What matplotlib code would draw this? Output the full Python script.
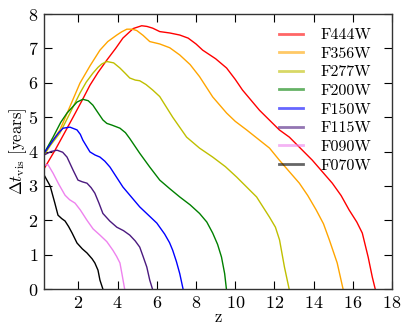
import matplotlib
matplotlib.use('Agg')
import matplotlib.pyplot as plt
from matplotlib.lines import Line2D

plt.rcParams['font.family'] = 'cmr10'
plt.rcParams['mathtext.fontset'] = 'cm'
plt.rcParams['axes.formatter.use_mathtext'] = True
plt.rcParams['axes.unicode_minus'] = False

filters = ['F444W', 'F356W', 'F277W', 'F200W', 'F150W', 'F115W', 'F090W', 'F070W']
colors = ['red', 'orange', '#bfbf00', 'green', 'blue', '#4b1a7f', 'violet', 'black']

# redshift / visibility time (years)
z_f444 = [0.25, 0.81, 1.3, 1.73, 2.2, 2.59, 3.0, 3.45, 3.9, 4.27, 4.8, 5.23, 5.5, 5.79,
          6.15, 6.66, 7.17, 7.6, 8.0, 8.34, 9.0, 9.56, 10.0, 10.37, 11.24, 12.25,
          12.76, 13.93, 14.95, 15.4, 15.81, 16.2, 16.48, 16.78, 16.99, 17.14]
t_f444 = [3.5, 4.04, 4.55, 5.0, 5.5, 5.93, 6.3, 6.66, 7.0, 7.3, 7.58, 7.66, 7.64, 7.59,
          7.49, 7.45, 7.39, 7.3, 7.13, 6.95, 6.7, 6.43, 6.1, 5.79, 5.2, 4.63,
          4.42, 3.75, 3.08, 2.72, 2.3, 1.95, 1.63, 0.93, 0.35, 0.0]

z_f356 = [0.25, 0.6, 1.06, 1.6, 2.08, 2.6, 3.1, 3.5, 3.96, 4.2, 4.47, 4.75, 4.98, 5.3,
          5.64, 6.15, 6.66, 7.17, 7.7, 8.18, 8.85, 9.56, 10.0, 10.58, 11.75, 12.25,
          13.27, 13.7, 14.13, 14.5, 14.8, 15.2, 15.5]
t_f356 = [3.9, 4.25, 4.63, 5.35, 5.99, 6.5, 6.95, 7.2, 7.39, 7.48, 7.56, 7.56, 7.52, 7.38,
          7.2, 7.13, 7.02, 6.81, 6.53, 6.18, 5.59, 5.12, 4.88, 4.63, 4.1, 3.75,
          3.08, 2.72, 2.3, 1.9, 1.43, 0.76, 0.0]

z_f277 = [0.25, 0.6, 1.06, 1.6, 2.08, 2.4, 2.74, 3.0, 3.2, 3.45, 3.8, 4.12, 4.4, 4.62,
          4.9, 5.13, 5.45, 5.79, 6.15, 6.81, 7.52, 8.18, 8.85, 9.5, 10.07, 11.09,
          11.75, 12.05, 12.26, 12.51, 12.75]
t_f277 = [3.9, 4.2, 4.54, 5.15, 5.7, 6.02, 6.28, 6.45, 6.55, 6.62, 6.58, 6.43, 6.27, 6.14,
          6.08, 6.06, 5.95, 5.79, 5.6, 5.0, 4.42, 4.1, 3.84, 3.56, 3.26, 2.68,
          2.09, 1.8, 1.43, 0.64, 0.0]

z_f200 = [0.25, 0.71, 1.1, 1.42, 1.93, 2.23, 2.5, 2.74, 3.0, 3.25, 3.45, 3.71, 4.12, 4.4,
          4.62, 5.13, 5.64, 6.15, 6.66, 7.17, 7.7, 8.18, 8.55, 8.85, 9.1, 9.3, 9.46,
          9.55]
t_f200 = [3.95, 4.42, 4.85, 5.12, 5.44, 5.52, 5.48, 5.35, 5.13, 4.92, 4.82, 4.77, 4.68,
          4.55, 4.38, 3.95, 3.55, 3.17, 2.92, 2.68, 2.45, 2.2, 1.95, 1.63, 1.3, 0.93,
          0.45, 0.0]

z_f150 = [0.25, 0.71, 1.0, 1.22, 1.57, 1.93, 2.1, 2.23, 2.59, 2.85, 3.1, 3.35, 3.61,
          4.27, 5.13, 6.0, 6.4, 6.65, 6.81, 7.0, 7.17, 7.34]
t_f150 = [3.95, 4.33, 4.55, 4.68, 4.71, 4.63, 4.5, 4.33, 3.99, 3.9, 3.84, 3.72, 3.55,
          2.97, 2.39, 1.92, 1.6, 1.35, 1.13, 0.8, 0.45, 0.0]

z_f115 = [0.25, 0.6, 0.91, 1.2, 1.42, 1.73, 1.98, 2.2, 2.44, 2.65, 2.84, 3.05, 3.25,
          3.6, 3.96, 4.3, 4.62, 4.9, 5.13, 5.3, 5.49, 5.64, 5.78]
t_f115 = [3.9, 4.0, 4.04, 3.98, 3.84, 3.46, 3.17, 3.12, 3.08, 2.95, 2.79, 2.5, 2.2,
          1.98, 1.8, 1.7, 1.57, 1.4, 1.22, 0.95, 0.64, 0.26, 0.0]

z_f090 = [0.25, 0.45, 0.71, 1.0, 1.32, 1.55, 1.83, 2.1, 2.44, 2.75, 3.1, 3.45, 3.76,
          3.95, 4.12, 4.22, 4.36]
t_f090 = [3.6, 3.62, 3.37, 3.05, 2.73, 2.6, 2.5, 2.3, 2.0, 1.75, 1.57, 1.38, 1.13,
          0.95, 0.76, 0.45, 0.0]

z_f070 = [0.25, 0.56, 0.8, 0.96, 1.15, 1.32, 1.5, 1.68, 1.93, 2.2, 2.44, 2.7, 2.84,
          3.0, 3.1, 3.25]
t_f070 = [3.32, 3.0, 2.5, 2.15, 2.05, 1.98, 1.82, 1.63, 1.34, 1.17, 1.05, 0.88, 0.76,
          0.55, 0.26, 0.0]

zs = [z_f444, z_f356, z_f277, z_f200, z_f150, z_f115, z_f090, z_f070]
ts = [t_f444, t_f356, t_f277, t_f200, t_f150, t_f115, t_f090, t_f070]

fig = plt.figure(figsize=(4.08, 3.27), dpi=100)
ax = fig.add_axes([0.108, 0.116, 0.853, 0.841])

for z, t, c in zip(zs, ts, colors):
    ax.plot(z, t, color=c, lw=1.0)

handles = [Line2D([], [], color=c, lw=2, alpha=0.6) for c in colors]
ax.legend(handles, filters, loc='upper right', frameon=False, fontsize=11.5,
          handlelength=1.5, handletextpad=1.1, labelspacing=0.28,
          borderaxespad=0.9, bbox_to_anchor=(1.0, 1.025))

ax.set_xlim(0.25, 18)
ax.set_ylim(0, 8)
ax.set_xticks(range(2, 19, 2))
ax.set_yticks(range(0, 9))
ax.tick_params(direction='in', top=True, right=True, labelsize=13, length=6,
               width=0.8, pad=4)
for s in ax.spines.values():
    s.set_linewidth(1.0)
    s.set_color('#333333')

ax.set_xlabel('z', fontsize=12, labelpad=-1)
ax.set_ylabel(r'$\Delta t_{\rm vis}$ [years]', fontsize=12, labelpad=-1)

fig.savefig('out.png', dpi=100)
